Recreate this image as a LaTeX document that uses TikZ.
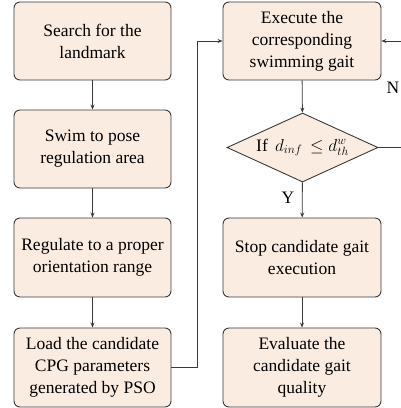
\documentclass[tikz,border=0pt]{standalone}
\usepackage{fontspec}
\setmainfont{Liberation Serif}
\newfontfamily\tnr{Liberation Serif}
\usetikzlibrary{shapes.geometric,arrows.meta}
\definecolor{boxfill}{HTML}{FBECE1}
\definecolor{boxline}{HTML}{3A3A3A}
\begin{document}
\begin{tikzpicture}[x=1pt,y=-1pt,
  stepbox/.style={draw=boxline,fill=boxfill,rounded corners=6pt,line width=0.9pt,
    minimum width=157pt,minimum height=78pt,align=center,inner sep=2pt,
    font=\tnr\fontsize{17.5}{22}\selectfont},
  decide/.style={draw=boxline,fill=boxfill,diamond,aspect=2.2,line width=0.9pt,
    minimum width=151pt,minimum height=69pt,inner sep=0pt,
    font=\tnr\fontsize{17.5}{22}\selectfont},
  conn/.style={draw=boxline,line width=0.9pt,-{Stealth[length=5pt,width=4pt]}},
  lbl/.style={font=\tnr\fontsize{17.5}{20}\selectfont}]
\useasboundingbox (0,0) rectangle (401,408);
\node[stepbox] (s1) at (92.5,41) {Search for the\\landmark};
\node[stepbox] (s2) at (92.5,149) {Swim to pose\\regulation area};
\node[stepbox,minimum height=79pt] (s3) at (92.5,257.5) {Regulate to a proper\\orientation range};
\node[stepbox,minimum height=79pt] (s4) at (92.5,367.5) {Load the candidate\\CPG parameters\\generated by PSO};
\node[stepbox,minimum width=158pt] (e1) at (302,41) {Execute the\\corresponding\\swimming gait};
\node[decide] (d) at (302.5,147.5) {If \,$d_{inf}\,\le d^{w}_{th}$};
\node[stepbox,minimum width=158pt,minimum height=79pt] (e2) at (302,257.5) {Stop candidate gait\\execution};
\node[stepbox,minimum width=158pt,minimum height=79pt] (e3) at (302,367.5) {Evaluate the\\candidate gait\\quality};
\coordinate (lx) at (197,0);
\coordinate (rx) at (401,0);
\draw[conn] (s1) -- (s2);
\draw[conn] (s2) -- (s3);
\draw[conn] (s3) -- (s4);
\draw[conn] (s4.east) -- (s4.east -| lx) -- (e1.west -| lx) -- (e1.west);
\draw[conn] (e1) -- (d);
\draw[conn] (d) -- (e2);
\draw[conn] (e2) -- (e3);
\draw[conn] (d.east) -- (d.east -| rx) -- (e1.east -| rx) -- (e1.east);
\node[lbl] (n) at (393,88) {N};
\node[lbl] (y) at (288,198) {Y};
\end{tikzpicture}
\end{document}
